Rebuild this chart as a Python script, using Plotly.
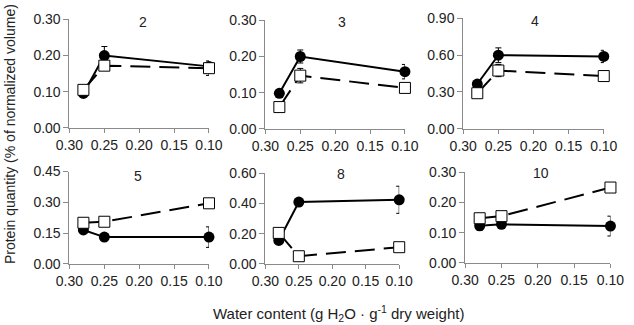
import plotly.graph_objects as go

W, H = 634, 325
water = [0.28, 0.25, 0.10]
panel_names = ["2", "3", "4", "5", "8", "10"]
y_max = [0.30, 0.30, 0.90, 0.45, 0.60, 0.30]

filled_vals = [
    [0.095, 0.200, 0.170],
    [0.098, 0.200, 0.158],
    [0.365, 0.600, 0.590],
    [0.165, 0.130, 0.130],
    [0.155, 0.410, 0.425],
    [0.123, 0.128, 0.122],
]
filled_err = [
    [0.005, 0.025, 0.010],
    [0.008, 0.018, 0.020],
    [0.020, 0.060, 0.050],
    [0.010, 0.005, 0.050],
    [0.015, 0.012, 0.090],
    [0.015, 0.008, 0.033],
]
open_vals = [
    [0.105, 0.172, 0.165],
    [0.060, 0.147, 0.113],
    [0.290, 0.475, 0.430],
    [0.200, 0.205, 0.295],
    [0.205, 0.050, 0.110],
    [0.148, 0.155, 0.250],
]
open_err = [
    [0.005, 0.010, 0.020],
    [0.005, 0.020, 0.008],
    [0.010, 0.050, 0.010],
    [0.005, 0.005, 0.005],
    [0.005, 0.005, 0.005],
    [0.005, 0.005, 0.005],
]

# pixel boxes: (left, right, top, bottom)
boxes = [
    (58, 204, 12, 126),
    (263, 409, 13, 127),
    (470, 617, 11, 127),
    (58, 204, 172, 269),
    (263, 403, 174, 269),
    (472, 624, 173, 268),
]
title_pos = [(135, 15), (343, 15), (545, 14), (130, 177), (342, 175), (551, 174)]

FONT = "Liberation Sans, Arial, sans-serif"
AX = "#8a8a8a"

fig = go.Figure()
layout = dict(width=W, height=H, margin=dict(l=0, r=0, t=0, b=0),
              paper_bgcolor="white", plot_bgcolor="white", showlegend=False,
              font=dict(family=FONT, size=14, color="#222"))
annotations = []
for i in range(6):
    l, r, t, b = boxes[i]
    xa = "xaxis" if i == 0 else f"xaxis{i+1}"
    ya = "yaxis" if i == 0 else f"yaxis{i+1}"
    xr = "x" if i == 0 else f"x{i+1}"
    yr = "y" if i == 0 else f"y{i+1}"
    layout[xa] = dict(domain=[l / W, r / W], range=[0.30, 0.10], anchor=yr,
                      tickvals=[0.30, 0.25, 0.20, 0.15, 0.10], tickformat=".2f",
                      ticks="outside", ticklen=4, tickcolor=AX, showline=True,
                      linecolor=AX, linewidth=1, showgrid=False, zeroline=False,
                      tickfont=dict(size=14, color="#222"))
    ym = y_max[i]
    layout[ya] = dict(domain=[1 - b / H, 1 - t / H], range=[0, ym], anchor=xr,
                      tickvals=[0, ym / 3, 2 * ym / 3, ym], tickformat=".2f",
                      ticks="outside", ticklen=5, tickcolor=AX, showline=True,
                      linecolor=AX, linewidth=1, showgrid=False, zeroline=False,
                      tickfont=dict(size=14, color="#222"))
    fig.add_trace(go.Scatter(x=water, y=filled_vals[i], xaxis=xr, yaxis=yr,
                             mode="lines+markers", cliponaxis=False,
                             line=dict(color="black", width=2),
                             marker=dict(symbol="circle", size=11, color="black"),
                             error_y=dict(type="data", array=filled_err[i],
                                          color="black", thickness=1, width=3)))
    fig.add_trace(go.Scatter(x=water, y=open_vals[i], xaxis=xr, yaxis=yr,
                             mode="lines+markers", cliponaxis=False,
                             line=dict(color="black", width=2, dash="20px,9px"),
                             marker=dict(symbol="square", size=11, color="white",
                                         line=dict(color="black", width=1)),
                             error_y=dict(type="data", array=open_err[i],
                                          color="black", thickness=1, width=3)))
    tx, ty = title_pos[i]
    annotations.append(dict(text=panel_names[i], x=tx / W, y=1 - ty / H,
                            xref="paper", yref="paper",
                            xanchor="center", yanchor="middle",
                            showarrow=False, font=dict(size=14, color="#222")))

annotations.append(dict(text="Water content (g H<sub>2</sub>O · g<sup>-1</sup> dry weight)",
                        x=340 / W, y=1 - 321 / H, xref="paper", yref="paper",
                        xanchor="center", yanchor="middle",
                        showarrow=False, font=dict(size=15, color="#222")))
annotations.append(dict(text="Protein quantity (% of normalized volume)",
                        x=-14 / W, y=1 - 133 / H, xref="paper", yref="paper",
                        xanchor="left", yanchor="middle",
                        textangle=-90, showarrow=False, font=dict(size=14, color="#222")))
layout["annotations"] = annotations
fig.update_layout(**layout)
fig.write_html("out.html")
